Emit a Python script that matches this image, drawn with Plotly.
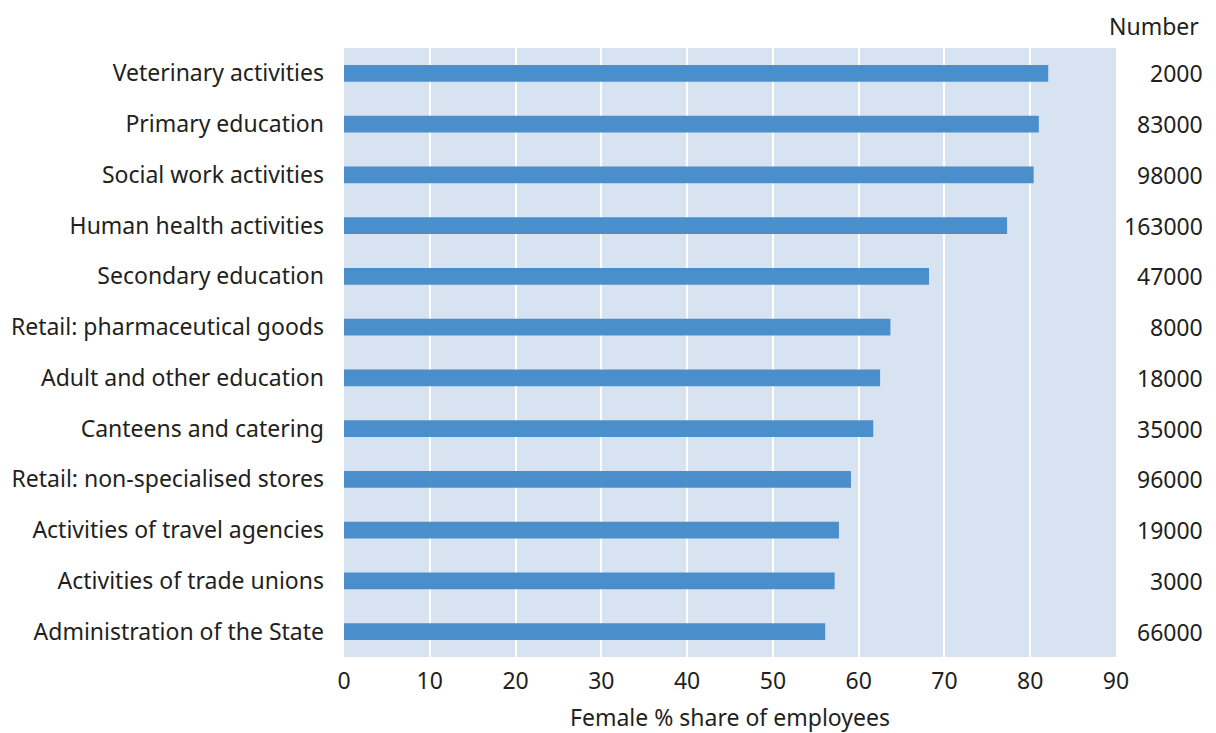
import plotly.graph_objects as go

categories = [
    "Veterinary activities",
    "Primary education",
    "Social work activities",
    "Human health activities",
    "Secondary education",
    "Retail: pharmaceutical goods",
    "Adult and other education",
    "Canteens and catering",
    "Retail: non-specialised stores",
    "Activities of travel agencies",
    "Activities of trade unions",
    "Administration of the State",
]
female_share = [82.1, 81.0, 80.4, 77.3, 68.2, 63.7, 62.5, 61.7, 59.1, 57.7, 57.2, 56.1]
numbers = ["2000", "83000", "98000", "163000", "47000", "8000", "18000", "35000",
           "96000", "19000", "3000", "66000"]
x_ticks = [0, 10, 20, 30, 40, 50, 60, 70, 80, 90]

FONT = "Noto Sans"
TXT = "#231f20"
FS = 23

fig = go.Figure()
fig.add_trace(go.Bar(
    y=categories, x=female_share, orientation="h",
    marker=dict(color="#4a8fcc", line=dict(width=0)),
    width=0.33,
))

for cat, num in zip(categories, numbers):
    fig.add_annotation(
        x=1, xref="paper", y=cat, yref="y", text=num, showarrow=False,
        xanchor="right", xshift=89, font=dict(family=FONT, size=FS, color=TXT),
    )
fig.add_annotation(
    x=1, xref="paper", y=1, yref="paper", text="Number", showarrow=False,
    xanchor="right", yanchor="bottom", xshift=84, yshift=5, borderpad=0,
    font=dict(family=FONT, size=FS, color=TXT),
)

fig.update_layout(
    width=1208, height=725,
    margin=dict(l=336, r=100, t=40, b=76, autoexpand=False),
    plot_bgcolor="#d8e3f2", paper_bgcolor="white",
    showlegend=False, bargap=0.67,
    font=dict(family=FONT, size=FS, color=TXT),
    xaxis=dict(
        range=[0, 90], tickvals=x_ticks, showgrid=True, gridcolor="white",
        gridwidth=2, zeroline=False, ticks="", showline=False,
        automargin=False, ticklabelstandoff=8,
        title=dict(text="Female % share of employees", standoff=18,
                   font=dict(family=FONT, size=FS, color=TXT)),
        tickfont=dict(family=FONT, size=FS, color=TXT),
    ),
    yaxis=dict(
        autorange="reversed", showgrid=False, ticks="", showline=False,
        automargin=False,
        ticklabelstandoff=19, tickfont=dict(family=FONT, size=FS, color=TXT),
    ),
)

fig.write_html("out.html")
